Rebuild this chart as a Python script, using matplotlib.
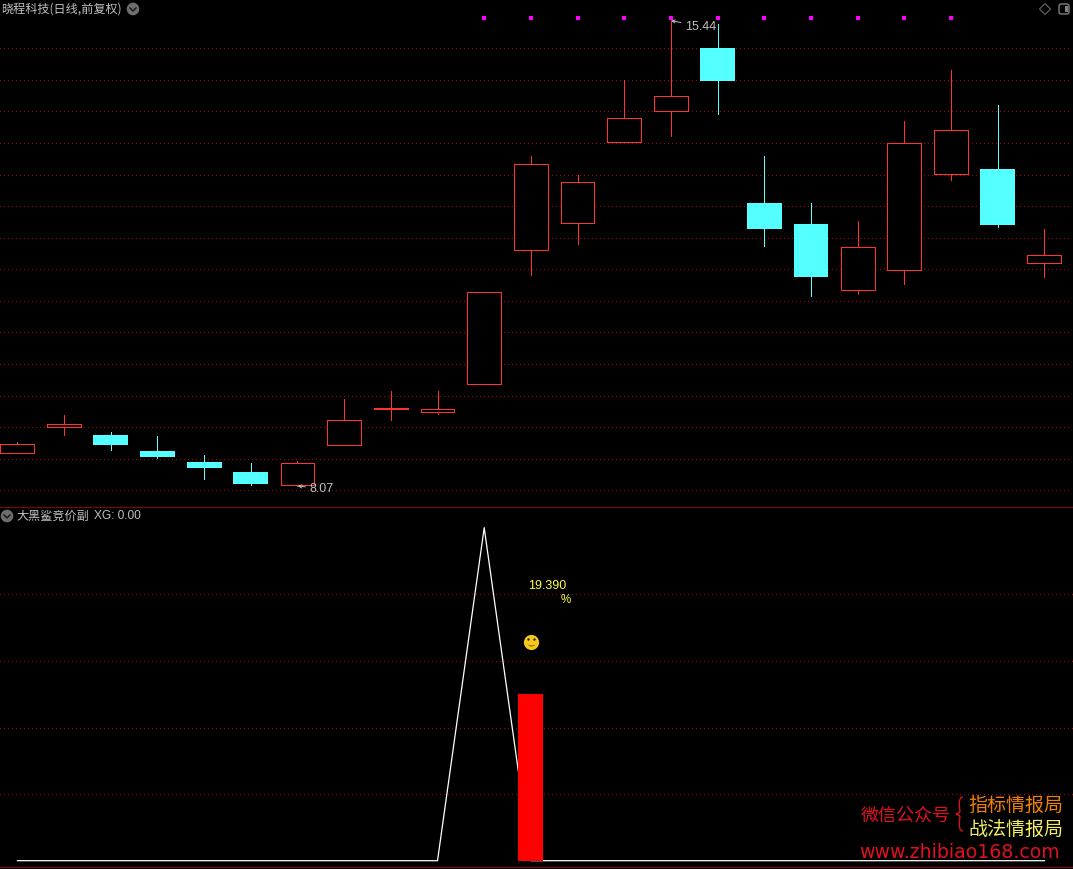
import matplotlib
matplotlib.use("Agg")
import matplotlib.pyplot as plt
from matplotlib.patches import Circle, FancyBboxPatch, Polygon, Rectangle, PathPatch
from matplotlib.path import Path

plt.rcParams['font.family'] = ['Noto Sans CJK SC', 'DejaVu Sans']

# ---- data ----
opens  = [8.59, 9.01, 8.88, 8.62, 8.45, 8.29, 8.09, 8.72, 9.28, 9.24, 9.69, 11.80, 12.24, 13.52, 14.00,
          15.00, 12.55, 12.22, 11.18, 11.49, 13.01, 13.09, 11.60]
closes = [8.74, 9.05, 8.72, 8.53, 8.35, 8.10, 8.44, 9.11, 9.30, 9.29, 11.14, 13.16, 12.88, 13.89, 14.24,
          14.48, 12.14, 11.38, 11.86, 13.50, 13.70, 12.20, 11.72]
highs  = [8.76, 9.19, 8.92, 8.86, 8.56, 8.43, 8.46, 9.45, 9.57, 9.57, 11.14, 13.29, 12.99, 14.50, 15.44,
          15.39, 13.29, 12.55, 12.27, 13.85, 14.66, 14.10, 12.14]
lows   = [8.59, 8.87, 8.64, 8.51, 8.18, 8.08, 8.07, 8.72, 9.11, 9.21, 9.69, 11.41, 11.90, 13.52, 13.61,
          13.96, 11.87, 11.08, 11.11, 11.27, 12.91, 12.17, 11.38]
signal_days = [10, 11, 12, 13, 14, 15, 16, 17, 18, 19, 20]
signal_price = 15.48
price_levels = [8.0, 8.5, 9.0, 9.5, 10.0, 10.5, 11.0, 11.5, 12.0, 12.5, 13.0, 13.5, 14.0, 14.5, 15.0]

sub_line = [0, 0, 0, 0, 0, 0, 0, 0, 0, 0, 100, 0, 0, 0, 0, 0, 0, 0, 0, 0, 0, 0, 0]
sub_levels = [20, 40, 60, 80]
bar_day, bar_value = 11, 50
pct_text, pct_value = "19.390", 82.6
pct_sign_value = 78.3
smile_value = 65.7

RED, CYAN = "#ff3232", "#54ffff"
GRID = "#b40000"
GREY = "#c0c0c0"
W, H = 1073, 869
X0, DX = 17.4, 46.68
PX = 0.72

fig = plt.figure(figsize=(W / 100, H / 100), dpi=100, facecolor="black")

def panel(y_top, y_bot):
    ax = fig.add_axes([0, 1 - y_bot / H, 1, (y_bot - y_top) / H], facecolor="black")
    ax.set_xlim(-X0 / DX, (W - X0) / DX)
    ax.axis("off")
    return ax

dots = dict(linewidth=PX, linestyles=(0, (1, 3)), antialiased=False, zorder=1)

# ---- upper panel ----
ax = panel(0, 507)
ax.set_ylim(8 - 16.7 / 63.14, 8 + 490.3 / 63.14)
ax.hlines(price_levels, -X0 / DX, (1069 - X0) / DX, colors=GRID, **dots)

for i, (o, c, h, l) in enumerate(zip(opens, closes, highs, lows)):
    up = c >= o
    col = RED if up else CYAN
    top, bot = max(o, c), min(o, c)
    ax.vlines(i, top, h, colors=col, linewidth=PX, antialiased=False, zorder=2)
    ax.vlines(i, l, bot, colors=col, linewidth=PX, antialiased=False, zorder=2)
    if up:
        ax.bar(i, top - bot, bottom=bot, width=0.725, facecolor="black",
               edgecolor=col, linewidth=PX, zorder=3, antialiased=False)
    else:
        ax.bar(i, top - bot, bottom=bot, width=0.745, color=col, linewidth=0, zorder=3)

ax.scatter(signal_days, [signal_price] * len(signal_days), marker="s", s=5, color="#ff00ff",
           linewidths=0, zorder=4)

arrow = dict(arrowstyle="->,head_length=0.25,head_width=0.12", color=GREY, lw=0.7, shrinkA=1, shrinkB=0)
ax.annotate("15.44", xy=(14, 15.44), xytext=(14, -6), textcoords="offset pixels", color=GREY,
            fontsize=9, va="center", family="Liberation Sans", arrowprops=arrow, zorder=5)
ax.annotate("8.07", xy=(6, 8.07), xytext=(12, -3), textcoords="offset pixels", color=GREY,
            fontsize=9, va="center", family="Liberation Sans", arrowprops=arrow, zorder=5)

# ---- lower panel ----
bx = panel(507, 866)
bx.set_ylim((860.7 - 866) / 3.33, (860.7 - 507) / 3.33)
bx.hlines(sub_levels, -X0 / DX, (W - X0) / DX, colors=GRID, **dots)
bx.plot(range(len(sub_line)), sub_line, color="white", linewidth=0.9, zorder=2)
bx.bar(bar_day, bar_value, width=0.535, color="#ff0000", linewidth=0, zorder=3)
bx.annotate(pct_text, xy=(bar_day, pct_value), xytext=(-3, 0), textcoords="offset pixels",
            color="#ffff40", fontsize=9, va="center", family="Liberation Sans", zorder=4)
bx.annotate("%", xy=(bar_day, pct_sign_value), xytext=(30, 0), textcoords="offset pixels",
            color="#ffff40", fontsize=8.4, va="center", family="Liberation Sans", zorder=4)
bx.scatter([bar_day], [smile_value], s=120, color="#f2c81c", linewidths=0, zorder=4)
bx.scatter([bar_day - 0.06, bar_day + 0.06], [smile_value + 0.8] * 2, s=3, color="#302000", linewidths=0, zorder=5)
bx.scatter([bar_day], [smile_value - 1.0], s=28, marker=r"$\smile$", color="#302000", linewidths=0, zorder=5)

# ---- chrome, in pixel coordinates ----
ov = fig.add_axes([0, 0, 1, 1], facecolor="none")
ov.set_xlim(0, W)
ov.set_ylim(H, 0)
ov.axis("off")

ov.plot([0, W], [506.8, 506.8], color="#900000", lw=PX, antialiased=False)
ov.plot([0, W], [866.5, 866.5], color="#900000", lw=PX, antialiased=False)
ov.plot([1058, W], [868.5, 868.5], color="#2020c0", lw=PX, antialiased=False)

def chevron(cx, cy):
    ov.add_patch(Circle((cx, cy), 6.3, color="#6e6e6e", lw=0))
    ov.plot([cx - 3, cx, cx + 3], [cy - 1, cy + 2, cy - 1], color="#1a1a1a", lw=1.1)

chevron(133, 9)
chevron(7, 516)
ov.add_patch(Polygon([(1045, 3.5), (1050.5, 9), (1045, 14.5), (1039.5, 9)], fill=False, ec="#666666", lw=0.8))
ov.add_patch(FancyBboxPatch((1059, 4), 10, 10, boxstyle="round,pad=0,rounding_size=2", fill=False,
                            ec="#808080", lw=1.0))
ov.add_patch(Rectangle((1065, 6), 3, 6, color="#808080", lw=0))

ov.text(1, 9, "晓程科技(日线,前复权)", color=GREY, fontsize=8.7, va="center")
ov.text(16, 516, "大黑鲨竞价副", color=GREY, fontsize=8.7, va="center")
ov.text(94, 516, "XG: 0.00", color=GREY, fontsize=8.6, va="center", family="Liberation Sans")

ov.text(861, 816, "微信公众号", color="#e01020", fontsize=13.0, va="center")
ov.text(968, 805, "指标情报局", color="#f08000", fontsize=13.7, va="center")
ov.text(968, 829, "战法情报局", color="#f0f060", fontsize=13.7, va="center")
brace = Path([(963, 797), (957, 797), (960, 811), (960, 811), (960, 813), (956, 814), (956, 814),
              (956, 814), (960, 815), (960, 817), (960, 817), (957, 831), (963, 831)],
             [Path.MOVETO] + [Path.CURVE4] * 12)
ov.add_patch(PathPatch(brace, fill=False, ec="#e01020", lw=1.0))
ov.text(859, 853, "www.zhibiao168.com", color="#e01020", fontsize=13.6, va="center", family="DejaVu Sans")

fig.savefig("out.png", dpi=100, facecolor="black")
